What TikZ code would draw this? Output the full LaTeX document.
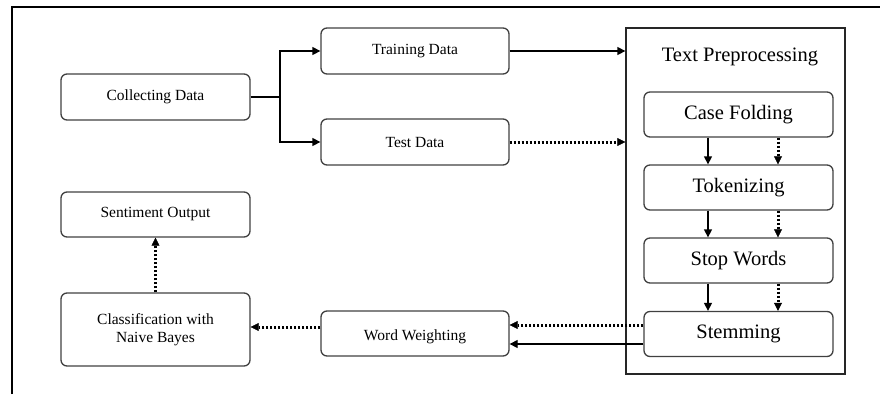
\documentclass[tikz,border=0pt]{standalone}
\usepackage{fontspec}
\setmainfont{Liberation Serif}
\usetikzlibrary{arrows.meta}
\begin{document}
\begin{tikzpicture}[x=1pt,y=-1pt,
  box/.style={draw=black!75,line width=1.3pt,rounded corners=6pt,inner sep=0pt,font=\fontsize{15.5}{18}\selectfont,align=center},
  ibox/.style={draw=black!75,line width=1.3pt,rounded corners=6pt,inner sep=0pt,font=\fontsize{20.5}{23}\selectfont},
  arr/.style={line width=1.3pt,-{Triangle[length=8pt,width=8pt]}},
  darr/.style={line width=3pt,dash pattern=on 2.5pt off 1.5pt,-{Triangle[length=8pt,width=8pt,line width=0.5pt]}}]
\useasboundingbox (0,0) rectangle (880,394);
% outer frame
\draw[line width=2pt] (11.5,394) -- (11.5,7) -- (880,7);
% left/middle boxes
\node[box,minimum width=189pt,minimum height=46pt] (collect) at (155.5,97) {Collecting Data};
\node[box,minimum width=188pt,minimum height=46pt] (train) at (415,51) {Training Data};
\node[box,minimum width=188pt,minimum height=46pt] (test) at (415,142) {Test Data};
\node[box,minimum width=189pt,minimum height=45pt] (sent) at (155.5,214.5) {Sentiment Output};
\node[box,minimum width=189pt,minimum height=73pt] (class) at (155.5,329.5) {Classification with\\Naive Bayes};
\node[box,minimum width=188pt,minimum height=45pt] (ww) at (415,333.5) {};
\node[font=\fontsize{15.5}{18}\selectfont] (wwt) at (415,337) {Word Weighting};
% preprocessing container
\node[draw=black!85,line width=1.3pt,minimum width=219pt,minimum height=346pt,inner sep=0pt] (pre) at (735.5,201) {};
\node[font=\fontsize{20.5}{23}\selectfont] (pretitle) at (740,57) {Text Preprocessing};
\node[ibox,minimum width=189pt,minimum height=45pt] (case) at (738.5,114.5) {Case Folding};
\node[ibox,minimum width=189pt,minimum height=45pt] (tok) at (738.5,187.5) {Tokenizing};
\node[ibox,minimum width=189pt,minimum height=45pt] (stop) at (738.5,260.5) {Stop Words};
\node[ibox,minimum width=189pt,minimum height=45pt] (stem) at (738.5,334) {Stemming};
% connectors
\coordinate (split) at (280,97);
\draw[line width=1.3pt] (collect.east) -- (split);
\draw[arr] (split) |- (train.west);
\draw[arr] (split) |- (test.west);
\draw[arr] (train.east) -- (train.east -| pre.west);
\draw[darr] (test.east) -- (test.east -| pre.west);
\foreach \a/\b in {case/tok,tok/stop,stop/stem}{
  \draw[arr] ([xshift=-30.5pt]\a.south) -- ([xshift=-30.5pt]\b.north);
  \draw[darr] ([xshift=39.5pt]\a.south) -- ([xshift=39.5pt]\b.north);
}
\draw[darr] ([yshift=9pt]stem.west) -- ([yshift=9pt]stem.west -| ww.east);
\draw[arr] ([yshift=-10pt]stem.west) -- ([yshift=-10pt]stem.west -| ww.east);
\draw[darr] ([yshift=6.5pt]ww.west) -- ([yshift=6.5pt]ww.west -| class.east);
\draw[darr] (class.north) -- (sent.south);
\end{tikzpicture}
\end{document}
